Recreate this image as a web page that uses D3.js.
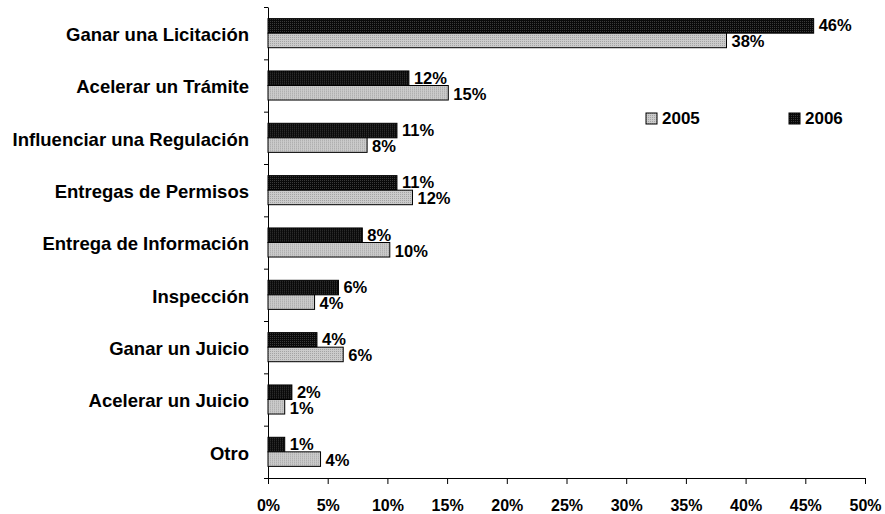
<!DOCTYPE html>
<html>
<head>
<meta charset="utf-8">
<script src="https://cdn.jsdelivr.net/npm/d3@7"></script>
<style>
  body { margin: 0; background: #fff; }
  svg { font-family: "Liberation Sans", Arial, sans-serif; font-weight: bold; }
</style>
</head>
<body>
<svg id="chart" width="885" height="514"></svg>
<script>
const categories = ['Ganar una Licitación', 'Acelerar un Trámite', 'Influenciar una Regulación',
  'Entregas de Permisos', 'Entrega de Información', 'Inspección', 'Ganar un Juicio',
  'Acelerar un Juicio', 'Otro'];
const values2005 = [38.4, 15.1, 8.3, 12.1, 10.2, 3.9, 6.3, 1.4, 4.4];
const values2006 = [45.7, 11.8, 10.8, 10.8, 7.9, 5.9, 4.1, 2.0, 1.4];
const seriesNames = ['2006', '2005'];
const xTicks = [0, 5, 10, 15, 20, 25, 30, 35, 40, 45, 50];

const svg = d3.select('#chart');
const defs = svg.append('defs');

// dotted fills like the original bars
const p05 = defs.append('pattern').attr('id', 'pat2005')
    .attr('width', 2).attr('height', 2).attr('patternUnits', 'userSpaceOnUse');
p05.append('rect').attr('width', 2).attr('height', 2).attr('fill', '#cbcbcb');
p05.append('rect').attr('width', 1).attr('height', 1).attr('fill', '#a3a3a3');

const p06 = defs.append('pattern').attr('id', 'pat2006')
    .attr('width', 2).attr('height', 2).attr('patternUnits', 'userSpaceOnUse');
p06.append('rect').attr('width', 2).attr('height', 2).attr('fill', '#0a0a0a');
p06.append('rect').attr('width', 1).attr('height', 1).attr('fill', '#3a3a3a');

const fills = { '2005': 'url(#pat2005)', '2006': 'url(#pat2006)' };

const plotLeft = 268, plotRight = 865, plotTop = 7, plotBottom = 478;

const x = d3.scaleLinear().domain([0, 50]).range([plotLeft, plotRight]);
const y = d3.scaleBand().domain(categories).range([plotTop, plotBottom]).paddingInner(0).paddingOuter(0);
const inner = d3.scaleBand().domain(seriesNames)
    .range([0, y.bandwidth()]).paddingOuter(0.8).paddingInner(0);

// x axis
const xAxis = svg.append('g')
    .attr('transform', 'translate(0,' + plotBottom + ')')
    .call(d3.axisBottom(x).tickValues(xTicks).tickSize(6).tickSizeOuter(0)
      .tickFormat(d => d + '%'));
xAxis.select('.domain').attr('stroke', '#000');
xAxis.selectAll('.tick line').attr('stroke', '#000');
xAxis.selectAll('.tick text')
    .attr('y', 22)
    .attr('font-size', 16)
    .attr('font-family', '"Liberation Sans", Arial, sans-serif')
    .attr('font-weight', 'bold')
    .attr('fill', '#000');

// y axis: ticks on category boundaries
const yEdge = d3.scaleLinear().domain([0, categories.length]).range([plotTop, plotBottom]);
const yAxis = svg.append('g')
    .attr('transform', 'translate(' + plotLeft + ',0)')
    .call(d3.axisLeft(yEdge).tickValues(d3.range(categories.length + 1))
      .tickSize(4).tickSizeOuter(0).tickFormat(''));
yAxis.select('.domain').attr('stroke', '#000');
yAxis.selectAll('.tick line').attr('stroke', '#000');

svg.append('g').selectAll('text')
  .data(categories)
  .enter().append('text')
    .attr('x', 249)
    .attr('y', d => y(d) + y.bandwidth() / 2 + 1.5)
    .attr('dy', '0.35em')
    .attr('text-anchor', 'end')
    .attr('font-size', 18.5)
    .attr('fill', '#000')
    .text(d => d);

// bars
const rows = categories.map((c, i) => ({ cat: c, '2005': values2005[i], '2006': values2006[i] }));

const groups = svg.append('g').selectAll('g')
  .data(rows)
  .enter().append('g')
    .attr('transform', d => 'translate(0,' + y(d.cat) + ')');

groups.selectAll('rect')
  .data(d => seriesNames.map(s => ({ key: s, value: d[s] })))
  .enter().append('rect')
    .attr('x', x(0))
    .attr('y', d => inner(d.key))
    .attr('width', d => x(d.value) - x(0))
    .attr('height', inner.bandwidth())
    .attr('fill', d => fills[d.key])
    .attr('stroke', '#000')
    .attr('stroke-width', 1);

groups.selectAll('text')
  .data(d => seriesNames.map(s => ({ key: s, value: d[s] })))
  .enter().append('text')
    .attr('x', d => x(d.value) + 5)
    .attr('y', d => inner(d.key) + inner.bandwidth() / 2 + (d.key === '2006' ? -0.5 : 1))
    .attr('dy', '0.35em')
    .attr('font-size', 16.5)
    .attr('fill', '#000')
    .text(d => Math.round(d.value) + '%');

// legend
const legendItems = [{ key: '2005', x: 646 }, { key: '2006', x: 789 }];
const legend = svg.append('g').selectAll('g')
  .data(legendItems)
  .enter().append('g')
    .attr('transform', d => 'translate(' + d.x + ',113)');
legend.append('rect')
    .attr('width', 11).attr('height', 11)
    .attr('fill', d => fills[d.key])
    .attr('stroke', '#000');
legend.append('text')
    .attr('x', 16).attr('y', 11)
    .attr('font-size', 17)
    .attr('fill', '#000')
    .text(d => d.key);
</script>
</body>
</html>
